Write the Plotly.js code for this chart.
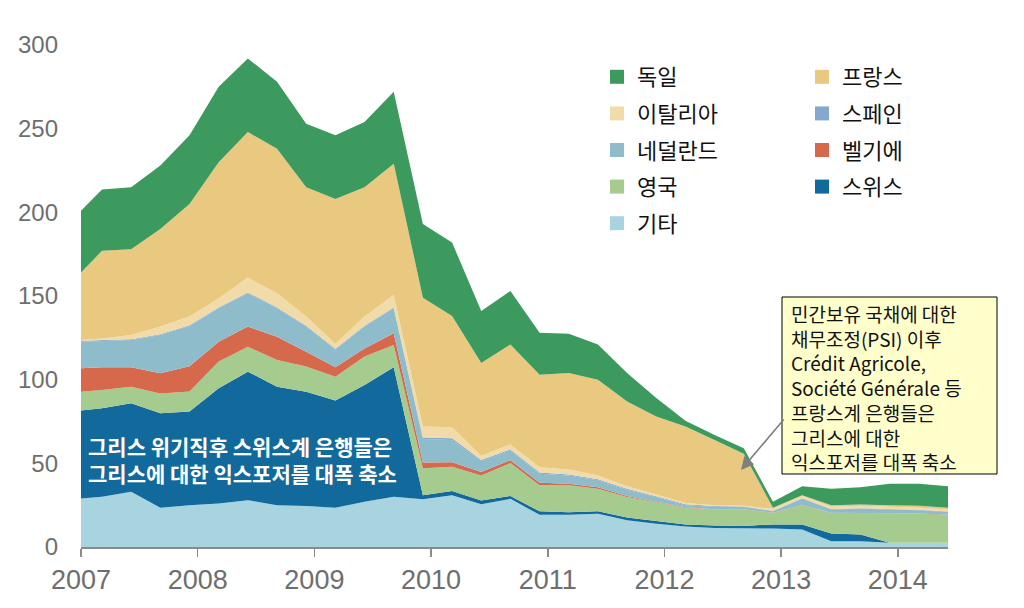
<!DOCTYPE html>
<html>
<head>
<meta charset="utf-8">
<script src="https://cdn.plot.ly/plotly-3.0.1.min.js"></script>
<style>html,body{margin:0;padding:0;background:#fff;}#chart{width:1024px;height:608px;}</style>
</head>
<body>
<div id="chart"></div>
<script>
// Period (decimal year) of each observation
const periods = [2007.00, 2007.18, 2007.43, 2007.68, 2007.93, 2008.18, 2008.43, 2008.68, 2008.93, 2009.18, 2009.43, 2009.68, 2009.93, 2010.18, 2010.43, 2010.68, 2010.93, 2011.18, 2011.43, 2011.68, 2011.93, 2012.18, 2012.43, 2012.68, 2012.93, 2013.18, 2013.43, 2013.68, 2013.93, 2014.18, 2014.43];

// Series values (stack order bottom -> top)
const etc        = [29, 30, 33, 23.5, 25, 26, 28, 25, 24.5, 23.5, 27, 30, 28.5, 31, 25.6, 28.8, 19.2, 19.2, 19.9, 16, 13.9, 12.2, 11.3, 11.3, 11, 10.5, 3.5, 3.5, 2.5, 2.5, 2.5];
const swiss      = [52.5, 52.9, 52.9, 56.4, 56, 68.8, 76.8, 70.8, 68.3, 64, 69.8, 77.4, 2.5, 2.5, 2.2, 1.7, 2.1, 1.5, 1.4, 1.7, 1.7, 1.3, 1.5, 1.3, 2.5, 3, 4.5, 4, 0, 0, 0];
const uk         = [11.3, 10.9, 9.9, 11.9, 12, 16, 14.9, 16, 15, 14.3, 17, 13.3, 16, 14.5, 14.9, 19.7, 15.6, 16.2, 13.5, 12.2, 11.1, 10, 9.6, 9.8, 6.8, 11.5, 12.3, 12.8, 17.8, 17.4, 16.7];
const belgium    = [14, 13.6, 11.6, 12, 15, 11.9, 12, 13.9, 8.9, 5.6, 4.9, 7, 3.5, 2.6, 2.1, 1.7, 1.5, 0.9, 0.9, 0.6, 0.4, 0.2, 0.1, 0.1, 0.1, 0.1, 0.1, 0.1, 0.1, 0.1, 0.1];
const netherlands= [15.9, 15.7, 16.3, 22.9, 24, 20, 19.9, 17, 15, 10.6, 13, 15, 14, 13.4, 6.4, 5.7, 5.4, 4.9, 4.2, 3.7, 2.8, 1.3, 1.6, 1.4, 0.9, 3.7, 2, 2.4, 2, 2, 1.6];
const spain      = [0.5, 0.5, 0.5, 0.5, 0.5, 0.5, 0.5, 0.5, 0.5, 0.5, 0.5, 0.5, 1, 1, 0.8, 0.7, 0.7, 0.7, 0.6, 0.6, 0.5, 0.5, 0.4, 0.3, 0.3, 0.3, 0.3, 0.3, 0.3, 0.3, 0.3];
const italy      = [0.5, 1, 2.5, 4.5, 5.2, 5.4, 8.9, 8.4, 5.5, 3, 5.5, 7.4, 6.5, 6.5, 2.4, 3, 3.1, 2.9, 2.2, 1.5, 1, 0.8, 0.5, 0.4, 1.2, 1.4, 1.4, 1.5, 1.4, 1.2, 1.2];
const france     = [40.3, 52.4, 51.3, 58.3, 67.3, 81.4, 87, 86.4, 77.3, 86.5, 77.3, 78.4, 77, 66.5, 55.6, 59.7, 55.4, 57.7, 57.3, 50.7, 46.6, 45.7, 39, 31.1, 0.7, 0.5, 0.9, 0.8, 0.9, 1.1, 1.1];
const germany    = [37, 36.6, 37, 38, 41, 45, 44, 40, 38, 38, 39, 43, 44, 44, 31, 32, 25, 23.5, 21, 17, 11, 3.5, 3, 3.3, 3.5, 5.3, 9.8, 10.3, 12.8, 13.2, 12.8];

const seriesNames = ['기타', '스위스', '영국', '벨기에', '네덜란드', '스페인', '이탈리아', '프랑스', '독일'];
const seriesData  = [etc, swiss, uk, belgium, netherlands, spain, italy, france, germany];
const seriesColors = ['#a8d4df', '#12699c', '#a6cb8e', '#d6694b', '#8fbccb', '#86a8cf', '#f1dba8', '#e9c97f', '#3d9a5e'];

const yearTicks = [2007, 2008, 2009, 2010, 2011, 2012, 2013, 2014];
const yTicks = [0, 50, 100, 150, 200, 250, 300];

const legendLeft  = ['독일', '이탈리아', '네덜란드', '영국', '기타'];
const legendRight = ['프랑스', '스페인', '벨기에', '스위스'];

const swissNote = '그리스 위기직후 스위스계 은행들은<br>그리스에 대한 익스포저를 대폭 축소';
const calloutLines = ['민간보유 국채에 대한', '채무조정(PSI) 이후', 'Crédit Agricole,', 'Société Générale 등', '프랑스계 은행들은', '그리스에 대한', '익스포저를 대폭 축소'];

const KR = '"Noto Sans CJK KR", "Noto Sans", sans-serif';

const traces = [];
seriesNames.forEach((name, i) => {
  traces.push({
    type: 'scatter', mode: 'lines', name: name,
    x: periods, y: seriesData[i],
    stackgroup: 'one',
    line: {width: 0, color: seriesColors[i]},
    fillcolor: seriesColors[i],
    showlegend: false,
    hoverinfo: 'skip'
  });
});
function legendEntry(name, legendId) {
  const i = seriesNames.indexOf(name);
  traces.push({
    type: 'scatter', mode: 'markers', name: name,
    x: [null], y: [null],
    marker: {symbol: 'square', size: 14, color: seriesColors[i]},
    legend: legendId, legendgroup: name, showlegend: true
  });
}
legendLeft.forEach(n => legendEntry(n, 'legend'));
legendRight.forEach(n => legendEntry(n, 'legend2'));

// plot area geometry (px)
const L = 81, R = 948, T = 45, B = 547;
const W = R - L, H = B - T;
const px = x => (x - L) / W;
const py = y => (B - y) / H;

const annotations = [
  {xref: 'paper', yref: 'paper', x: px(86), y: py(460), xanchor: 'left', yanchor: 'middle',
   text: '<b>' + swissNote + '</b>', showarrow: false, align: 'left',
   font: {family: KR, size: 21, color: '#ffffff'}},
  {xref: 'paper', yref: 'paper', x: px(741), y: py(470), text: '', showarrow: true,
   ax: 44, ay: -52, arrowhead: 2, arrowsize: 1.6, arrowwidth: 1.6, arrowcolor: '#7f7f7f', standoff: 0},
  {xref: 'paper', yref: 'paper', x: px(789), y: py(387), xanchor: 'left', yanchor: 'middle',
   text: calloutLines.join('<br>'), showarrow: false, align: 'left',
   font: {family: KR, size: 19, color: '#111111'}}
];

const layout = {
  width: 1024, height: 608,
  margin: {l: L, r: 1024 - R, t: T, b: 608 - B, pad: 0},
  paper_bgcolor: '#ffffff', plot_bgcolor: '#ffffff',
  showlegend: true,
  xaxis: {
    range: [2007, 2014.43], tickvals: yearTicks, ticktext: yearTicks.map(String),
    showgrid: false, zeroline: false,
    showline: true, linecolor: '#8a8a8a', linewidth: 1.5,
    ticks: 'outside', ticklen: 8, tickwidth: 1.5, tickcolor: '#8a8a8a',
    tickfont: {family: '"Liberation Sans Narrow", "Liberation Sans", Arial, sans-serif', size: 27, color: '#6e6e6e'}
  },
  yaxis: {
    range: [0, 300], tickvals: yTicks, showgrid: false, zeroline: false, showline: false,
    ticks: '', ticklabelstandoff: 22,
    tickfont: {family: '"Liberation Sans", Arial, sans-serif', size: 24, color: '#6e6e6e'}
  },
  legend: {x: px(597), y: py(56), xanchor: 'left', yanchor: 'top', orientation: 'v',
    traceorder: 'grouped', tracegroupgap: 5, bgcolor: 'rgba(0,0,0,0)',
    font: {family: KR, size: 22, color: '#111111'}},
  legend2: {x: px(802), y: py(56), xanchor: 'left', yanchor: 'top', orientation: 'v',
    traceorder: 'grouped', tracegroupgap: 5, bgcolor: 'rgba(0,0,0,0)',
    font: {family: KR, size: 22, color: '#111111'}},
  shapes: [
    {type: 'rect', xref: 'paper', yref: 'paper', x0: px(782), x1: px(997), y0: py(474), y1: py(297),
     fillcolor: '#ffffcc', line: {color: '#000000', width: 1}, layer: 'above'}
  ],
  annotations: annotations
};

Plotly.newPlot('chart', traces, layout, {displayModeBar: false, staticPlot: true});
</script>
</body>
</html>
